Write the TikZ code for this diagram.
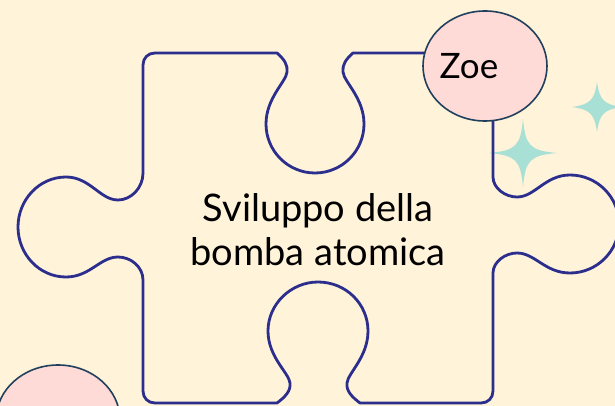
\documentclass[tikz,border=0pt]{standalone}
\usepackage{fontspec}
\setmainfont{Lato}
\definecolor{bgc}{HTML}{FFF3D9}
\definecolor{linec}{HTML}{2B2E8C}
\definecolor{sparkc}{HTML}{A8E0D6}
\definecolor{pinkc}{HTML}{FFDBD7}
\definecolor{ringc}{HTML}{21405E}
\tikzset{
  piece/.style={draw=linec, line width=2.8pt, line join=round},
  bubble/.style={ellipse, draw=ringc, fill=pinkc, line width=1.6pt, minimum width=124pt, minimum height=110pt, inner sep=0pt},
  sparkle/.style={fill=sparkc, draw=none}
}
\usetikzlibrary{shapes.geometric}
\newcommand{\spark}[3]{%
  \fill[sparkle] (#1,#2-#3) .. controls (#1+2.5,#2-7) and (#1+7,#2-2.5) .. (#1+#3,#2)
    .. controls (#1+7,#2+2.5) and (#1+2.5,#2+7) .. (#1,#2+#3)
    .. controls (#1-2.5,#2+7) and (#1-7,#2+2.5) .. (#1-#3,#2)
    .. controls (#1-7,#2-2.5) and (#1-2.5,#2-7) .. cycle;}
\begin{document}
\begin{tikzpicture}[x=1pt,y=-1pt]
\fill[bgc] (0,0) rectangle (615,406);
\useasboundingbox (0,0) rectangle (615,406);
% sparkles
\spark{523}{153}{34}
\spark{597}{107}{25}
% puzzle piece
\draw[piece] (143,173) -- (143,65) .. controls (143,58) and (148,53) .. (155,53) -- (277,53)
  .. controls (284,59) and (288,65) .. (287,72)
  .. controls (286,82) and (266,98) .. (266,124)
  .. controls (266,151) and (288,173) .. (315,173)
  .. controls (342,173) and (364,151) .. (364,124)
  .. controls (364,98) and (344,82) .. (343,72)
  .. controls (342,65) and (346,59) .. (353,53)
  -- (481,53) .. controls (488,53) and (493,58) .. (493,65) -- (493,177)
  .. controls (493,188) and (505,197) .. (517,197)
  .. controls (535,197) and (545,175) .. (570,175)
  .. controls (597,175) and (619,197) .. (619,224)
  .. controls (619,251) and (597,273) .. (570,273)
  .. controls (545,273) and (535,253) .. (517,253)
  .. controls (505,253) and (493,262) .. (493,273)
  -- (493,391) .. controls (493,398) and (488,403) .. (481,403) -- (360,403)
  .. controls (352,397) and (346,391) .. (347,383)
  .. controls (348,373) and (368,357) .. (368,331)
  .. controls (368,304) and (346,282) .. (318,282)
  .. controls (291,282) and (268,304) .. (268,331)
  .. controls (268,357) and (289,373) .. (290,383)
  .. controls (291,391) and (285,397) .. (277,403)
  -- (155,403) .. controls (148,403) and (143,398) .. (143,391) -- (143,280)
  .. controls (143,267) and (131,257) .. (118,257)
  .. controls (100,257) and (90,277) .. (66,277)
  .. controls (39,277) and (18,254) .. (18,227)
  .. controls (18,200) and (39,177) .. (66,177)
  .. controls (90,177) and (100,200) .. (118,200)
  .. controls (131,200) and (143,188) .. (143,173) -- cycle;
% title
\node[align=center, font=\fontsize{38}{44}\selectfont] (title) at (318,230) {Sviluppo della\\bomba atomica};
% bubbles
\node[bubble] (zoe) at (485,66) {};
\node[font=\fontsize{35}{40}\selectfont] (zoelabel) at (469,66) {Zoe};
\node[bubble] (other) at (58,420) {};
\end{tikzpicture}
\end{document}
